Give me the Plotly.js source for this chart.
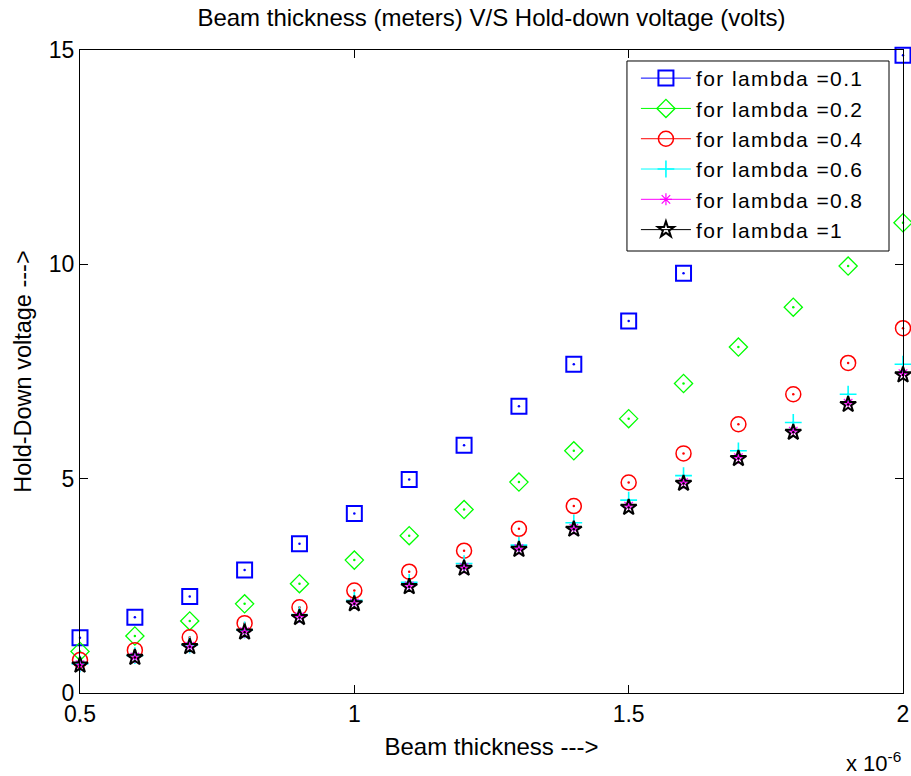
<!DOCTYPE html>
<html>
<head>
<meta charset="utf-8">
<script src="https://cdn.plot.ly/plotly-3.0.1.min.js"></script>
<style>
  html, body { margin: 0; padding: 0; background: #ffffff; }
  #chart { width: 911px; height: 776px; }
  /* looser spacing for the legend entries; keep the wider text unclipped */
  #chart .legendtext { letter-spacing: 1.4px; }
  #chart .legend .scrollbox { clip-path: none !important; }
</style>
</head>
<body>
<div id="chart"></div>
<script>
// Beam thickness (m)
const thickness = [0.5e-6, 0.6e-6, 0.7e-6, 0.8e-6, 0.9e-6, 1.0e-6, 1.1e-6, 1.2e-6,
                   1.3e-6, 1.4e-6, 1.5e-6, 1.6e-6, 1.7e-6, 1.8e-6, 1.9e-6, 2.0e-6];

// Hold-down voltage (V) for each lambda
const voltLambda01 = [1.29, 1.77, 2.25, 2.87, 3.48, 4.19, 4.98, 5.78, 6.69, 7.67, 8.68, 9.79, 10.98, 12.23, 13.53, 14.88];
const voltLambda02 = [0.97, 1.33, 1.68, 2.08, 2.55, 3.10, 3.67, 4.28, 4.92, 5.65, 6.40, 7.22, 8.07, 9.00, 9.96, 10.97];
const voltLambda04 = [0.77, 1.00, 1.30, 1.63, 2.00, 2.39, 2.83, 3.32, 3.83, 4.36, 4.91, 5.59, 6.27, 6.97, 7.70, 8.51];
const voltLambda06 = [0.68, 0.87, 1.12, 1.47, 1.83, 2.16, 2.58, 3.02, 3.45, 3.97, 4.50, 5.07, 5.65, 6.31, 6.97, 7.67];
const voltLambda08 = [0.66, 0.84, 1.09, 1.43, 1.78, 2.10, 2.50, 2.93, 3.37, 3.84, 4.36, 4.91, 5.49, 6.11, 6.76, 7.45];
const voltLambda1  = [0.65, 0.83, 1.08, 1.42, 1.76, 2.08, 2.48, 2.91, 3.35, 3.82, 4.33, 4.89, 5.47, 6.08, 6.73, 7.42];

const seriesNames = ['for lambda =0.1', 'for lambda =0.2', 'for lambda =0.4',
                     'for lambda =0.6', 'for lambda =0.8', 'for lambda =1'];

// Axis tick positions and labels (x shown in units of 1e-6)
const xTickVals = [0.5e-6, 1.0e-6, 1.5e-6, 2.0e-6];
const xTickText = ['0.5', '1', '1.5', '2'];
const yTickVals = [0, 5, 10, 15];

const FONT = '"Liberation Sans", Arial, sans-serif';

// Insert a gap after every point so the line style only shows in the legend
function isolate(arr) {
  const out = [];
  arr.forEach(v => { out.push(v, null); });
  return out;
}

const styles = [
  { color: '#0000ff', symbol: 'square-open',     size: 15, width: 2.0 },
  { color: '#00ff00', symbol: 'diamond-open',    size: 14, width: 1.3 },
  { color: '#ff0000', symbol: 'circle-open',     size: 15, width: 1.5 },
  { color: '#00ffff', symbol: 'cross-thin-open', size: 12, width: 1.6 },
  { color: '#ff00ff', symbol: 'asterisk-open',   size: 10, width: 1.2 },
  { color: '#000000', symbol: 'star-open',       size: 12, width: 2.0 }
];
const allSeries = [voltLambda01, voltLambda02, voltLambda04, voltLambda06, voltLambda08, voltLambda1];

const traces = [];
allSeries.forEach((vals, i) => {
  const s = styles[i];
  traces.push({
    type: 'scatter',
    mode: 'lines+markers',
    name: seriesNames[i],
    x: isolate(thickness),
    y: isolate(vals),
    connectgaps: false,
    cliponaxis: false,
    line: { color: s.color, width: 1 },
    marker: { symbol: s.symbol, size: s.size, color: s.color,
              line: { color: s.color, width: s.width } }
  });
  // small centre dot of each marker
  traces.push({
    type: 'scatter',
    mode: 'markers',
    x: thickness,
    y: vals,
    showlegend: false,
    hoverinfo: 'skip',
    cliponaxis: false,
    marker: { symbol: 'circle', size: 2.5, color: s.color }
  });
});

const layout = {
  width: 911,
  height: 776,
  paper_bgcolor: '#ffffff',
  plot_bgcolor: '#ffffff',
  margin: { l: 80, r: 8, t: 50, b: 83 },
  font: { family: FONT, size: 23, color: '#000000' },
  title: {
    text: 'Beam thickness (meters) V/S Hold-down voltage (volts)',
    font: { family: FONT, size: 24, color: '#000000' },
    x: 0.5, xref: 'paper', xanchor: 'center',
    y: 0.977, yref: 'container', yanchor: 'middle'
  },
  xaxis: {
    range: [0.5e-6, 2.0e-6],
    tickvals: xTickVals,
    ticktext: xTickText,
    ticks: 'inside',
    ticklen: 8,
    tickcolor: '#000000',
    showline: true,
    linecolor: '#000000',
    linewidth: 1,
    mirror: 'ticks',
    showgrid: false,
    zeroline: false,
    tickfont: { family: FONT, size: 23, color: '#000000' },
    title: { text: 'Beam thickness --->', font: { family: FONT, size: 24, color: '#000000' }, standoff: 12 }
  },
  yaxis: {
    range: [0, 15],
    tickvals: yTickVals,
    ticks: 'inside',
    ticklen: 8,
    tickcolor: '#000000',
    showline: true,
    linecolor: '#000000',
    linewidth: 1,
    mirror: 'ticks',
    showgrid: false,
    zeroline: false,
    tickfont: { family: FONT, size: 23, color: '#000000' },
    title: { text: 'Hold-Down voltage --->', font: { family: FONT, size: 23.5, color: '#000000' }, standoff: 10 }
  },
  // legend frame drawn as a white box over the plot area
  shapes: [{
    type: 'rect', layer: 'above',
    xref: 'paper', yref: 'paper',
    x0: 0.6646, x1: 0.983, y0: 0.6874, y1: 0.9829,
    fillcolor: '#ffffff',
    line: { color: '#000000', width: 1 }
  }],
  legend: {
    x: 0.6755, y: 0.9876, xanchor: 'left', yanchor: 'top',
    bgcolor: 'rgba(0,0,0,0)',
    borderwidth: 0,
    itemwidth: 50,
    font: { family: FONT, size: 21, color: '#000000' },
    tracegroupgap: 0
  },
  annotations: [{
    text: 'x 10<sup>-6</sup>',
    xref: 'paper', yref: 'paper',
    x: 1.0, y: -0.107,
    xanchor: 'right', yanchor: 'middle',
    showarrow: false,
    font: { family: FONT, size: 22, color: '#000000' }
  }],
  showlegend: true
};

Plotly.newPlot('chart', traces, layout, { displayModeBar: false, staticPlot: true });
</script>
</body>
</html>
